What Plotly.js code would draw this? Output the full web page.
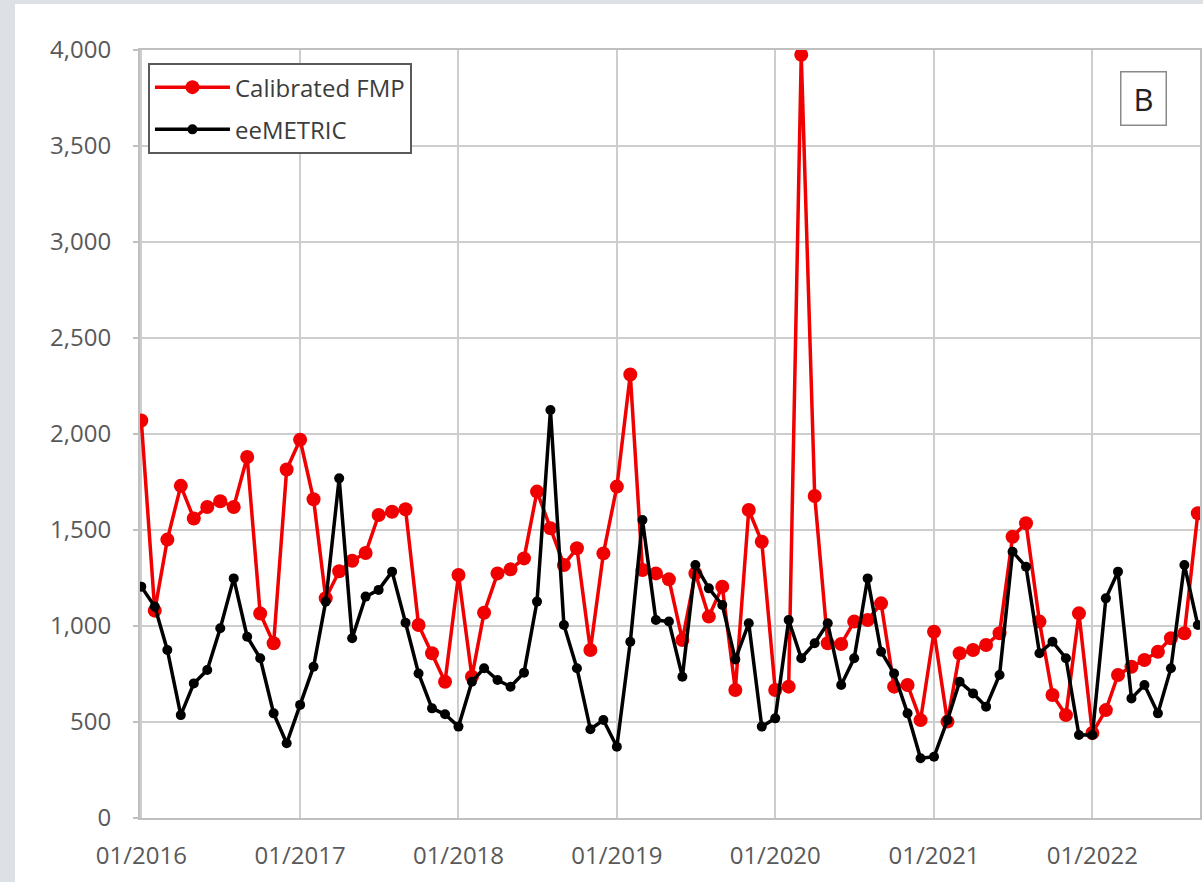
<!DOCTYPE html>
<html>
<head>
<meta charset="utf-8">
<script src="https://cdn.plot.ly/plotly-3.0.1.min.js"></script>
<style>
  html, body { margin: 0; padding: 0; background: #dde1e5; width: 1203px; height: 882px; overflow: hidden; }
  #panel { position: absolute; left: 15px; top: 4px; width: 1188px; height: 878px; background: #ffffff; }
  #chart { position: absolute; left: 0; top: 0; width: 1203px; height: 882px; }
</style>
</head>
<body>
<div id="panel"></div>
<div id="chart"></div>
<script>
// Monthly series, January 2016 to September 2022
const startYear = 2016;
const monthCount = 81;

const calibratedFMP = [
  2070, 1080, 1450, 1730, 1560, 1620, 1650, 1620, 1880, 1065, 910, 1815,
  1970, 1660, 1145, 1285, 1340, 1380, 1578, 1595, 1608, 1005, 858, 710,
  1266, 736, 1069, 1274, 1295, 1352, 1700, 1509, 1318, 1405, 875, 1378,
  1726, 2310, 1292, 1274, 1243, 927, 1274, 1049, 1205, 667, 1604, 1439,
  667, 684, 3975, 1677, 910, 906, 1023, 1031, 1118, 684, 693, 510,
  970, 502, 858, 875, 901, 962, 1465, 1535, 1023, 641, 536, 1066,
  443, 562, 745, 788, 823, 866, 936, 962, 1587
];

const eeMETRIC = [
  1205, 1101, 875, 536, 701, 771, 988, 1248, 944, 832, 545, 389,
  589, 788, 1127, 1769, 936, 1153, 1188, 1283, 1017, 753, 571, 540,
  476, 710, 780, 719, 684, 757, 1127, 2125, 1005, 780, 462, 510,
  371, 918, 1552, 1031, 1023, 736, 1318, 1196, 1109, 826, 1014, 476,
  519, 1031, 832, 910, 1014, 693, 832, 1248, 866, 753, 545, 311,
  319, 510, 710, 649, 580, 745, 1387, 1309, 858, 918, 832, 432,
  432, 1144, 1283, 623, 693, 545, 780, 1318, 1005
];

const tickDates = ['2016-01-01','2017-01-01','2018-01-01','2019-01-01','2020-01-01','2021-01-01','2022-01-01'];
const tickLabels = ['01/2016','01/2017','01/2018','01/2019','01/2020','01/2021','01/2022'];

const months = [];
for (let i = 0; i < monthCount; i++) {
  const y = startYear + Math.floor(i / 12);
  const m = (i % 12) + 1;
  months.push(y + '-' + (m < 10 ? '0' + m : m) + '-01');
}

const traces = [
  {
    x: months, y: calibratedFMP, type: 'scatter', mode: 'lines+markers',
    name: 'Calibrated FMP', legendgroup: 'a',
    line: { color: '#f00000', width: 3.5 },
    marker: { color: '#f00000', size: 14 }
  },
  {
    x: months, y: eeMETRIC, type: 'scatter', mode: 'lines+markers',
    name: 'eeMETRIC', legendgroup: 'b',
    line: { color: '#000000', width: 3.5 },
    marker: { color: '#000000', size: 10 }
  }
];

const gridCol = '#cdcdcd';
const layout = {
  width: 1203, height: 882,
  margin: { l: 140, r: 3, t: 50, b: 64 },
  paper_bgcolor: 'rgba(0,0,0,0)',
  plot_bgcolor: '#ffffff',
  font: { family: 'Open Sans, sans-serif', color: '#595959' },
  showlegend: true,
  legend: {
    x: 0.0075, y: 0.983, xanchor: 'left', yanchor: 'top',
    bgcolor: '#ffffff', bordercolor: '#5a5a5a', borderwidth: 2,
    font: { size: 24, color: '#3c3c3c', family: 'Open Sans, sans-serif' },
    traceorder: 'grouped', tracegroupgap: 8, itemwidth: 75
  },
  xaxis: {
    type: 'date',
    range: ['2015-12-29', '2022-09-06'],
    tickvals: tickDates, ticktext: tickLabels,
    showgrid: true, gridcolor: gridCol, gridwidth: 2,
    showline: true, linecolor: '#c0c0c0', linewidth: 2, mirror: true,
    ticks: '', tickfont: { size: 24, color: '#595959' },
    ticklabelstandoff: 15,
    zeroline: false
  },
  yaxis: {
    range: [0, 4000], dtick: 500, tick0: 0,
    tickformat: ',d',
    showgrid: true, gridcolor: gridCol, gridwidth: 2,
    showline: true, linecolor: '#c0c0c0', linewidth: 2, mirror: true,
    ticks: 'outside', ticklen: 5, tickcolor: '#c0c0c0', tickwidth: 2,
    tickfont: { size: 24, color: '#595959' },
    ticklabelstandoff: 17,
    zeroline: false
  },
  annotations: [
    {
      xref: 'paper', yref: 'paper', x: 0.947, y: 0.9375,
      xanchor: 'center', yanchor: 'middle',
      text: 'B', showarrow: false,
      font: { size: 31, color: '#222222', family: 'Open Sans, sans-serif' },
      bgcolor: '#ffffff', bordercolor: '#8a8a8a', borderwidth: 1.5,
      width: 44, height: 52, borderpad: 0
    }
  ]
};

Plotly.newPlot('chart', traces, layout, { displayModeBar: false, staticPlot: true });
</script>
</body>
</html>
